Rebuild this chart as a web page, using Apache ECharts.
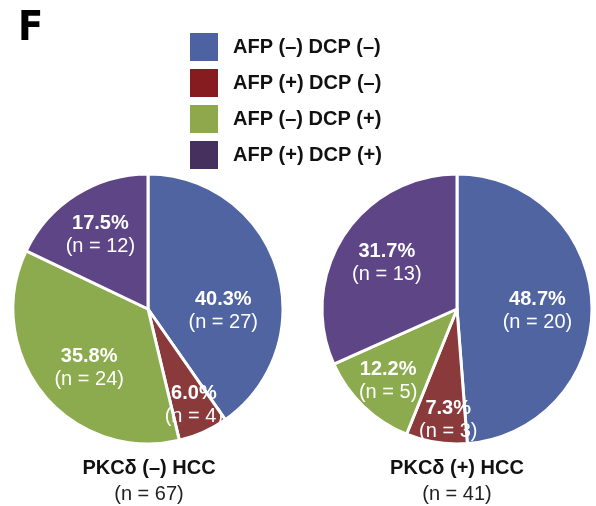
<!DOCTYPE html>
<html>
<head>
<meta charset="utf-8">
<script src="https://cdn.jsdelivr.net/npm/echarts@6/dist/echarts.min.js"></script>
<style>
  html, body { margin: 0; padding: 0; background: #fff; }
  #pie { width: 596px; height: 506px; }
</style>
</head>
<body>
<div id="pie"></div>
<script>
var groups = ['AFP (–) DCP (–)', 'AFP (+) DCP (–)', 'AFP (–) DCP (+)', 'AFP (+) DCP (+)'];
var negCounts = [27, 4, 24, 12];
var negPct = ['40.3%', '6.0%', '35.8%', '17.5%'];
var posCounts = [20, 3, 5, 13];
var posPct = ['48.7%', '7.3%', '12.2%', '31.7%'];
var pieTitles = ['PKCδ (–) HCC', 'PKCδ (+) HCC'];
var pieTotals = ['(n = 67)', '(n = 41)'];

var sliceColors = ['#4f64a0', '#8b3a3b', '#8bab4e', '#5e4585'];
var legendColors = ['#4d62a0', '#861b20', '#8fa84c', '#46315e'];
// label nudges from the default inside spot
var negOffsets = [[8, 23], [17, 32], [-4, 15], [-10, -14]];
var posOffsets = [[10, 5], [2, 41], [-20, 21], [-11, -8]];

var font = '"Liberation Sans", Arial, sans-serif';

function buildData(counts, pcts, offsets) {
    return counts.map(function (v, i) {
        return {
            name: groups[i],
            value: v,
            itemStyle: { color: sliceColors[i] },
            label: { offset: offsets[i] },
            pct: pcts[i]
        };
    });
}

function pieSeries(center, counts, pcts, offsets) {
    return {
        type: 'pie',
        center: center,
        radius: [0, 135],
        startAngle: 90,
        clockwise: true,
        avoidLabelOverlap: false,
        silent: true,
        itemStyle: { borderColor: '#fff', borderWidth: 3 },
        labelLine: { show: false },
        label: {
            show: true,
            position: 'inside',
            formatter: function (p) {
                return '{b|' + p.data.pct + '}\n{n|(n = ' + p.value + ')}';
            },
            rich: {
                b: { fontFamily: font, fontSize: 20, fontWeight: 'bold', color: '#fff', lineHeight: 23, align: 'center' },
                n: { fontFamily: font, fontSize: 20, color: '#fff', lineHeight: 23, align: 'center' }
            }
        },
        data: buildData(counts, pcts, offsets)
    };
}

var chart = echarts.init(document.getElementById('pie'), null, { renderer: 'canvas' });
var option = {
    animation: false,
    backgroundColor: '#fff',
    legend: {
        orient: 'vertical',
        left: 190,
        top: 33,
        padding: 0,
        itemWidth: 28,
        itemHeight: 28,
        itemGap: 8,
        icon: 'rect',
        selectedMode: false,
        textStyle: {
            fontFamily: font,
            fontSize: 20,
            fontWeight: 'bold',
            color: '#111',
            padding: [0, 0, 0, 10]
        },
        data: groups.map(function (g, i) {
            return { name: g, itemStyle: { color: legendColors[i], borderWidth: 0 } };
        })
    },
    graphic: [
        {
            type: 'text', left: 18, top: 9,
            style: { text: 'F', fontFamily: '"Liberation Sans Narrow", "DejaVu Sans Condensed", sans-serif', fontSize: 41, fontWeight: 'bold', fill: '#000' }
        },
        {
            type: 'text', x: 149, y: 468,
            style: { text: pieTitles[0], fontFamily: font, fontSize: 20, fontWeight: 'bold', fill: '#111', align: 'center', verticalAlign: 'middle' }
        },
        {
            type: 'text', x: 149, y: 494,
            style: { text: pieTotals[0], fontFamily: font, fontSize: 20, fill: '#222', align: 'center', verticalAlign: 'middle' }
        },
        {
            type: 'text', x: 457, y: 468,
            style: { text: pieTitles[1], fontFamily: font, fontSize: 20, fontWeight: 'bold', fill: '#111', align: 'center', verticalAlign: 'middle' }
        },
        {
            type: 'text', x: 457, y: 494,
            style: { text: pieTotals[1], fontFamily: font, fontSize: 20, fill: '#222', align: 'center', verticalAlign: 'middle' }
        }
    ],
    series: [
        pieSeries([148, 309], negCounts, negPct, negOffsets),
        pieSeries([457, 309], posCounts, posPct, posOffsets)
    ]
};
chart.setOption(option);
</script>
</body>
</html>
